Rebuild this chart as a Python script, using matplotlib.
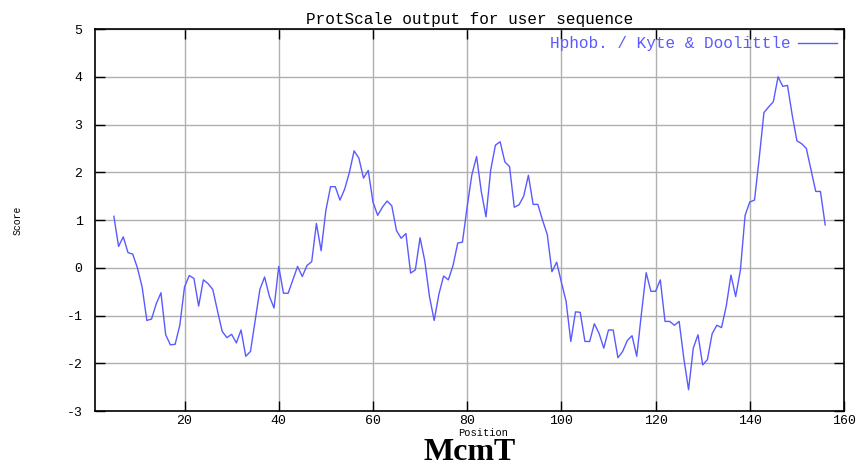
import matplotlib
matplotlib.use("Agg")
import matplotlib.pyplot as plt
import numpy as np

# Kyte & Doolittle hydropathy, window centres 5..156
positions = np.arange(5, 157)
scores = [
    1.08, 0.45, 0.65, 0.32, 0.29, 0.00, -0.40, -1.10, -1.07, -0.75,      # 5-14
    -0.52, -1.40, -1.61, -1.60, -1.20, -0.40, -0.16, -0.22, -0.80, -0.25,  # 15-24
    -0.33, -0.45, -0.90, -1.33, -1.46, -1.39, -1.57, -1.30, -1.85, -1.75,  # 25-34
    -1.10, -0.45, -0.19, -0.59, -0.84, 0.03, -0.53, -0.53, -0.25, 0.03,    # 35-44
    -0.18, 0.05, 0.13, 0.93, 0.36, 1.20, 1.70, 1.70, 1.42, 1.65,          # 45-54
    2.00, 2.45, 2.30, 1.88, 2.04, 1.38, 1.10, 1.27, 1.40, 1.30,           # 55-64
    0.78, 0.62, 0.72, -0.11, -0.04, 0.63, 0.15, -0.60, -1.10, -0.55,      # 65-74
    -0.17, -0.25, 0.05, 0.52, 0.54, 1.28, 1.95, 2.33, 1.60, 1.07,         # 75-84
    2.05, 2.57, 2.64, 2.22, 2.12, 1.27, 1.32, 1.50, 1.94, 1.33,           # 85-94
    1.33, 1.00, 0.70, -0.08, 0.12, -0.30, -0.70, -1.54, -0.92, -0.93,     # 95-104
    -1.54, -1.54, -1.17, -1.37, -1.68, -1.30, -1.30, -1.88, -1.75, -1.52,  # 105-114
    -1.42, -1.85, -0.95, -0.10, -0.49, -0.49, -0.25, -1.12, -1.12, -1.20,  # 115-124
    -1.12, -1.90, -2.55, -1.68, -1.40, -2.03, -1.92, -1.38, -1.20, -1.25,  # 125-134
    -0.80, -0.15, -0.60, -0.05, 1.10, 1.38, 1.42, 2.30, 3.25, 3.37,       # 135-144
    3.48, 4.00, 3.80, 3.82, 3.20, 2.66, 2.60, 2.50, 2.05, 1.60,           # 145-154
    1.60, 0.90,                                                           # 155-156
]

x_ticks = [20, 40, 60, 80, 100, 120, 140, 160]
y_ticks = [-3, -2, -1, 0, 1, 2, 3, 4, 5]

mono = "Liberation Mono"
plt.rcParams["axes.unicode_minus"] = False

fig = plt.figure(figsize=(8.56, 4.61), dpi=100)
ax = fig.add_axes([0.111, 0.108, 0.875, 0.829])

ax.plot(positions, scores, color="#5a5aff", lw=1.0, label="Hphob. / Kyte & Doolittle")

ax.set_xlim(1, 160)
ax.set_ylim(-3, 5)
ax.set_xticks(x_ticks)
ax.set_yticks(y_ticks)
ax.grid(True, color="#b0b0b0", lw=1.0)
ax.set_axisbelow(True)
ax.tick_params(direction="in", length=7, width=1, top=True, right=True,
               labelsize=9.5)
ax.tick_params(axis="x", pad=2.5)
ax.tick_params(axis="y", pad=9)
for lab in ax.get_xticklabels() + ax.get_yticklabels():
    lab.set_family(mono)
for sp in ax.spines.values():
    sp.set_linewidth(1.2)

ax.set_title("ProtScale output for user sequence", fontsize=11.5, family=mono, pad=3.5)
ax.set_xlabel("Position", fontsize=7.5, family=mono)
ax.xaxis.set_label_coords(0.518, -0.043)
ax.set_ylabel("Score", fontsize=7, family=mono, labelpad=32)

leg = ax.legend(loc="upper right", frameon=False, markerfirst=False,
                prop={"family": mono, "size": 11.5}, handlelength=2.4,
                handletextpad=0.5, borderaxespad=0.05)
for t in leg.get_texts():
    t.set_color("#5a5aff")

fig.text(0.549, 0.002, "McmT", fontsize=23, fontweight="bold",
         family="Liberation Serif", ha="center", va="baseline")

fig.savefig("out.png", dpi=100)
